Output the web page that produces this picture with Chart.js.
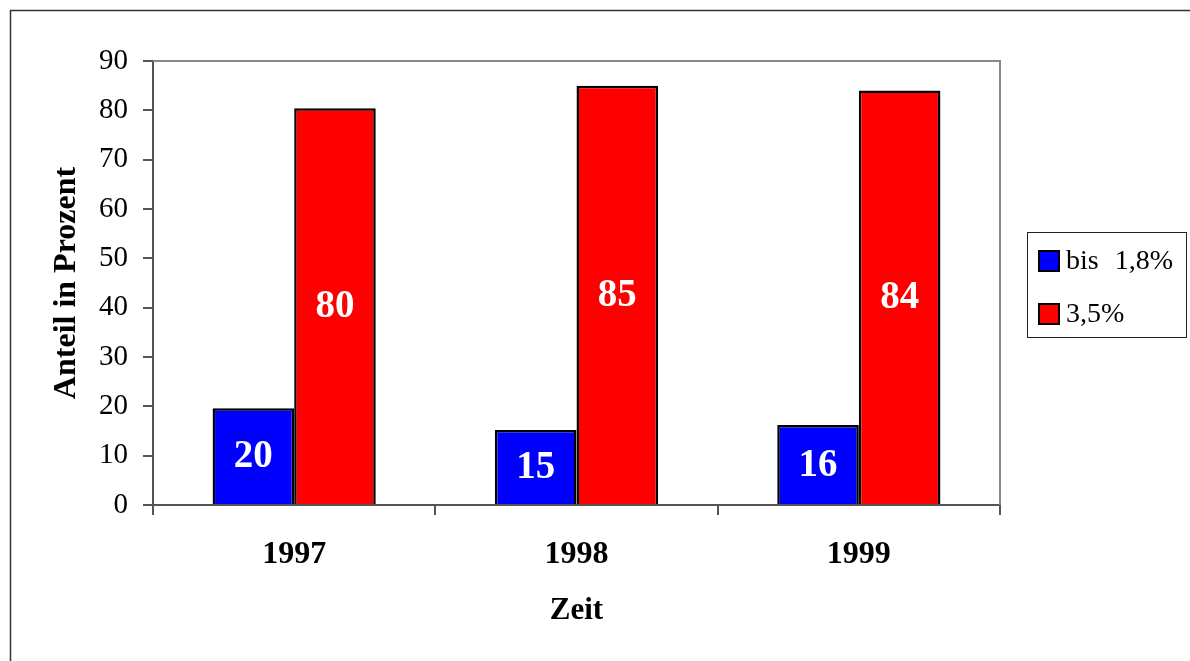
<!DOCTYPE html>
<html>
<head>
<meta charset="utf-8">
<script src="https://cdn.jsdelivr.net/npm/chart.js@4.4.0/dist/chart.umd.min.js"></script>
<style>
  html, body { margin: 0; padding: 0; background: #fff; }
  #wrap { position: relative; width: 1190px; height: 661px; }
</style>
</head>
<body>
<div id="wrap"><canvas id="chart" width="1190" height="661"></canvas></div>
<script>
const years = ['1997', '1998', '1999'];
const seriesNames = ['bis 1,8%', '3,5%'];
const lowShare = [19.6, 15.2, 16.2];
const highShare = [80.4, 85, 84];
const yTicks = [0, 10, 20, 30, 40, 50, 60, 70, 80, 90];

const serif = '"Liberation Serif", "Times New Roman", serif';

// frame around the whole chart + grey border round the plot area
const framePlugin = {
    id: 'frame',
    beforeDraw(chart) {
        const ctx = chart.ctx;
        ctx.save();
        ctx.strokeStyle = '#333';
        ctx.lineWidth = 1.5;
        ctx.strokeRect(10.5, 10.5, 1300, 800);
        ctx.restore();
    },
    beforeDatasetsDraw(chart) {
        const a = chart.chartArea;
        const ctx = chart.ctx;
        ctx.save();
        ctx.strokeStyle = '#888';
        ctx.lineWidth = 2;
        ctx.beginPath();
        ctx.moveTo(a.left, a.top);
        ctx.lineTo(a.right, a.top);
        ctx.lineTo(a.right, a.bottom);
        ctx.stroke();
        ctx.restore();
    }
};

// white value labels in the middle of each bar
const barLabels = {
    id: 'barLabels',
    afterDatasetsDraw(chart) {
        const ctx = chart.ctx;
        ctx.save();
        ctx.fillStyle = '#fff';
        ctx.font = 'bold 39px ' + serif;
        ctx.textAlign = 'center';
        ctx.textBaseline = 'middle';
        chart.data.datasets.forEach((ds, i) => {
            chart.getDatasetMeta(i).data.forEach((bar, j) => {
                ctx.fillText(String(Math.round(ds.data[j])), bar.x, (bar.y + bar.base) / 2 + 1);
            });
        });
        ctx.restore();
    }
};

// legend box on the right
const boxLegend = {
    id: 'boxLegend',
    afterDraw(chart) {
        const ctx = chart.ctx;
        ctx.save();
        ctx.strokeStyle = '#222';
        ctx.lineWidth = 1;
        ctx.strokeRect(1027.5, 232.5, 159, 105);
        ctx.font = '28px ' + serif;
        ctx.textBaseline = 'middle';
        ctx.wordSpacing = '9px';
        chart.data.datasets.forEach((ds, i) => {
            const y = 261 + i * 53;
            ctx.fillStyle = ds.backgroundColor;
            ctx.fillRect(1039, y - 10, 20, 20);
            ctx.strokeStyle = '#000';
            ctx.lineWidth = 2;
            ctx.strokeRect(1039, y - 10, 20, 20);
            ctx.fillStyle = '#000';
            ctx.fillText(ds.label, 1066, y + 1);
        });
        ctx.restore();
    }
};

new Chart(document.getElementById('chart'), {
    type: 'bar',
    data: {
        labels: years,
        datasets: [
            {
                label: seriesNames[0],
                data: lowShare,
                backgroundColor: '#0000ff',
                borderColor: '#000',
                borderWidth: 2.5
            },
            {
                label: seriesNames[1],
                data: highShare,
                backgroundColor: '#ff0000',
                borderColor: '#000',
                borderWidth: 2.5
            }
        ]
    },
    options: {
        responsive: false,
        animation: false,
        devicePixelRatio: 1,
        layout: { padding: { left: 0, top: 61, right: 190, bottom: 0 } },
        datasets: {
            bar: { categoryPercentage: 0.578, barPercentage: 1 }
        },
        plugins: {
            legend: { display: false },
            tooltip: { enabled: false }
        },
        scales: {
            x: {
                grid: {
                    display: true,
                    drawOnChartArea: false,
                    offset: true,
                    tickLength: 10,
                    color: '#555',
                    lineWidth: 2
                },
                border: { color: '#555', width: 2 },
                ticks: {
                    color: '#000',
                    padding: 21,
                    font: { family: serif, size: 32, weight: 'bold' }
                },
                title: {
                    display: true,
                    text: 'Zeit',
                    color: '#000',
                    padding: { top: 0, bottom: 31 },
                    font: { family: serif, size: 31, weight: 'bold' }
                },
                afterFit(scale) { scale.height = 156; }
            },
            y: {
                min: 0,
                max: 90,
                afterBuildTicks(scale) { scale.ticks = yTicks.map(v => ({ value: v })); },
                grid: {
                    display: true,
                    drawOnChartArea: false,
                    tickLength: 10,
                    color: '#555',
                    lineWidth: 2
                },
                border: { color: '#555', width: 2 },
                ticks: {
                    color: '#000',
                    padding: 15,
                    font: { family: serif, size: 29 }
                },
                title: {
                    display: true,
                    text: 'Anteil in Prozent',
                    color: '#000',
                    padding: { top: 48, bottom: 0 },
                    font: { family: serif, size: 32, weight: 'bold' }
                },
                afterFit(scale) { scale.width = 153; }
            }
        }
    },
    plugins: [framePlugin, barLabels, boxLegend]
});
</script>
</body>
</html>
